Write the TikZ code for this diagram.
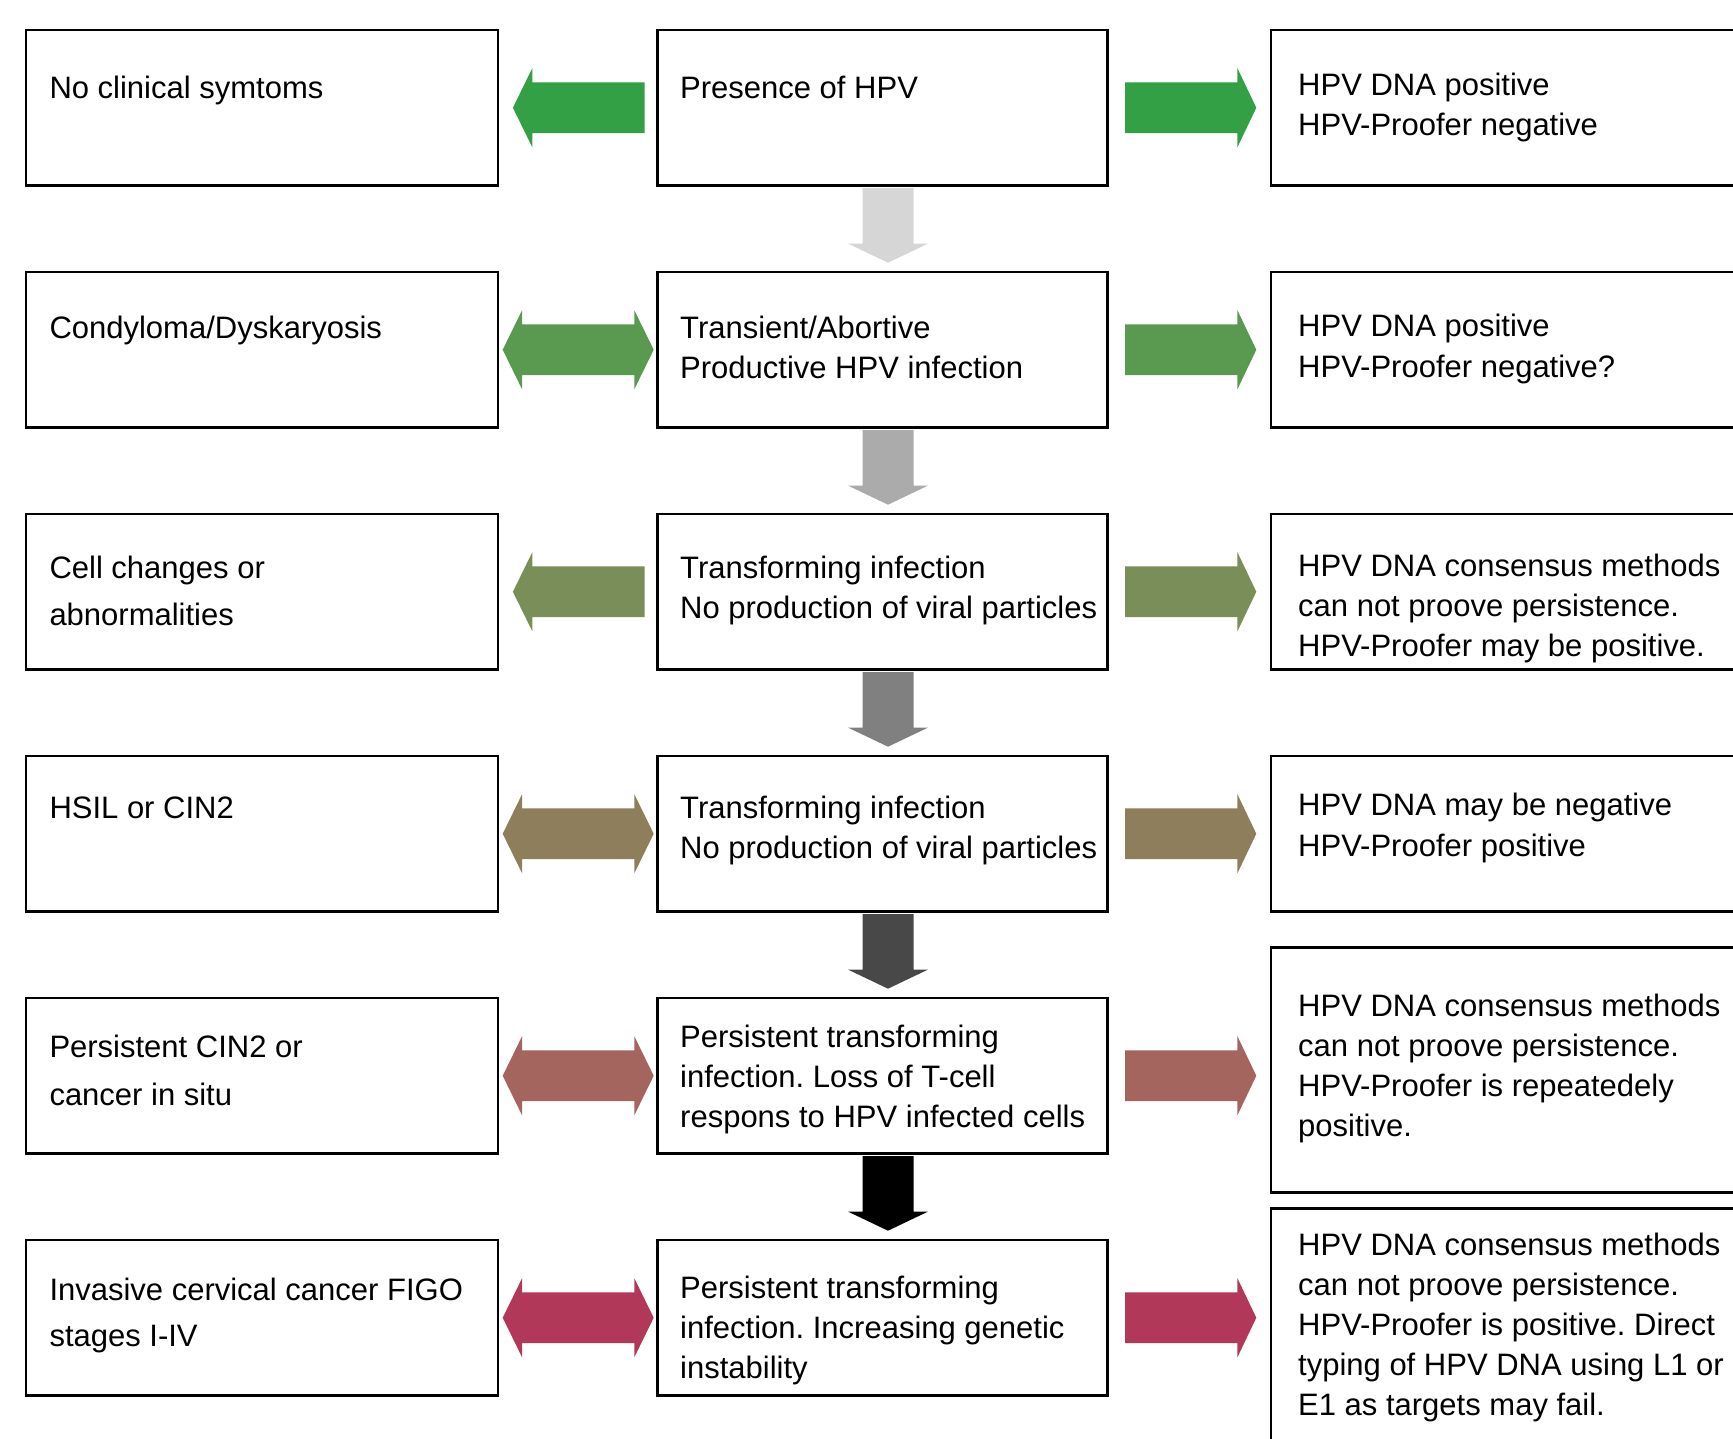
\documentclass[tikz,border=0pt]{standalone}
\usepackage{fontspec}
\setmainfont{Liberation Sans}
\usetikzlibrary{calc}
\frenchspacing
\newcommand\ml[2]{\vtop{\baselineskip=#1pt\lineskiplimit=-100pt\lineskip=0pt\halign{##\hfil\cr#2\cr}}}
\definecolor{rowa}{RGB}{51,160,70}
\definecolor{rowb}{RGB}{89,153,80}
\definecolor{rowc}{RGB}{122,142,89}
\definecolor{rowd}{RGB}{142,126,92}
\definecolor{rowe}{RGB}{164,101,94}
\definecolor{rowf}{RGB}{178,56,90}
\definecolor{dna}{RGB}{214,214,214}
\definecolor{dnb}{RGB}{171,171,171}
\definecolor{dnc}{RGB}{128,128,128}
\definecolor{dnd}{RGB}{72,72,72}
\definecolor{dne}{RGB}{0,0,0}
% left single arrow (points left): #1 left box, #2 centre box
\newcommand\larrow[3]{\fill[#3] ($(#1.east)+(13.6,0)$) -- ($(#1.east)+(33,-39.6)$) -- ++(0,14.2) -- ($(#2.west)+(-11.7,-25.4)$) -- ++(0,50.8) -- ($(#1.east)+(33,25.4)$) -- ++(0,14.2) -- cycle;}
% double arrow between left box and centre box
\newcommand\darrow[3]{\fill[#3] ($(#1.east)+(3.4,0)$) -- ($(#1.east)+(22.8,-39.6)$) -- ++(0,14.2) -- ($(#2.west)+(-21.9,-25.4)$) -- ++(0,-14.2) -- ($(#2.west)+(-2.5,0)$) -- ($(#2.west)+(-21.9,39.6)$) -- ++(0,-14.2) -- ($(#1.east)+(22.8,25.4)$) -- ++(0,14.2) -- cycle;}
% right arrow: #1 centre box, #2 right box
\newcommand\rarrow[3]{\fill[#3] ($(#1.east)+(16.4,-25.4)$) -- ($(#1.east -| #2.west)+(-32.3,-25.4)$) -- ++(0,-14.2) -- ($(#1.east -| #2.west)+(-13.4,0)$) -- ($(#1.east -| #2.west)+(-32.3,39.6)$) -- ++(0,-14.2) -- ($(#1.east)+(16.4,25.4)$) -- cycle;}
% down arrow: #1 upper box, #2 lower box
\newcommand\varrow[3]{\fill[#3] ($(#1.south)+(-20,1.3)$) -- ($(#2.north)+(-20,-27)$) -- ++(-14.3,0) -- ($(#2.north)+(5.5,-8)$) -- ($(#2.north)+(45.3,-27)$) -- ++(-14.3,0) -- ($(#1.south)+(31,1.3)$) -- cycle;}
\begin{document}
\begin{tikzpicture}[x=1pt,y=-1pt,
  bx/.style={draw=black, line width=2.6pt, inner sep=0pt, minimum height=155.5pt},
  lbox/.style={bx, minimum width=472pt},
  cbox/.style={bx, minimum width=450pt},
  rbox/.style={bx, minimum width=480pt},
  txt/.style={anchor=base west, inner sep=0pt, font=\fontsize{31}{40}\selectfont}]
\useasboundingbox (0,0) rectangle (1733,1439);
\clip (0,0) rectangle (1733,1439);
\fill[white] (0,0) rectangle (1733,1439);
% boxes
\node[lbox] (L1) at (262,107.75) {};
\node[lbox] (L2) at (262,349.75) {};
\node[lbox] (L3) at (262,591.75) {};
\node[lbox] (L4) at (262,833.75) {};
\node[lbox] (L5) at (262,1075.75) {};
\node[lbox] (L6) at (262,1317.75) {};
\node[cbox] (C1) at (882.5,107.75) {};
\node[cbox] (C2) at (882.5,349.75) {};
\node[cbox] (C3) at (882.5,591.75) {};
\node[cbox] (C4) at (882.5,833.75) {};
\node[cbox] (C5) at (882.5,1075.75) {};
\node[cbox] (C6) at (882.5,1317.75) {};
\node[rbox] (R1) at (1511,107.75) {};
\node[rbox] (R2) at (1511,349.75) {};
\node[rbox] (R3) at (1511,591.75) {};
\node[rbox] (R4) at (1511,833.75) {};
\node[rbox, minimum height=245pt] (R5) at (1511,1069.8) {};
\node[rbox, minimum height=252pt] (R6) at (1511,1334.3) {};
% texts
\node[txt] (L1t) at (49.3,99) {\ml{45}{No clinical symtoms}};
\node[txt] (L2t) at (49.3,339) {\ml{45}{Condyloma/Dyskaryosis}};
\node[txt] (L3t) at (49.3,578.3) {\ml{46.7}{Cell changes or\cr abnormalities}};
\node[txt] (L4t) at (49.3,818) {\ml{45}{HSIL or CIN2}};
\node[txt] (L5t) at (49.3,1057.5) {\ml{48}{Persistent CIN2 or\cr cancer in situ}};
\node[txt] (L6t) at (49.3,1300) {\ml{46.5}{Invasive cervical cancer FIGO\cr stages I-IV}};
\node[txt] (C1t) at (680,99) {\ml{40}{Presence of HPV}};
\node[txt] (C2t) at (680,339) {\ml{40}{Transient/Abortive\cr Productive HPV infection}};
\node[txt] (C3t) at (680,578.5) {\ml{40}{Transforming infection\cr No production of viral particles}};
\node[txt] (C4t) at (680,818.5) {\ml{40}{Transforming infection\cr No production of viral particles}};
\node[txt] (C5t) at (680,1047.7) {\ml{40}{Persistent transforming\cr infection. Loss of T-cell\cr respons to HPV infected cells}};
\node[txt] (C6t) at (680,1298.8) {\ml{40}{Persistent transforming\cr infection. Increasing genetic\cr instability}};
\node[txt] (R1t) at (1298,95.5) {\ml{40.5}{HPV DNA positive\cr HPV-Proofer negative}};
\node[txt] (R2t) at (1298,337) {\ml{40.5}{HPV DNA positive\cr HPV-Proofer negative?}};
\node[txt] (R3t) at (1298,576) {\ml{40}{HPV DNA consensus methods\cr can not proove persistence.\cr HPV-Proofer may be positive.}};
\node[txt] (R4t) at (1298,815.6) {\ml{40.4}{HPV DNA may be negative\cr HPV-Proofer positive}};
\node[txt] (R5t) at (1298,1016) {\ml{40}{HPV DNA consensus methods\cr can not proove persistence.\cr HPV-Proofer is repeatedely\cr positive.}};
\node[txt] (R6t) at (1298,1255) {\ml{40.2}{HPV DNA consensus methods\cr can not proove persistence.\cr HPV-Proofer is positive. Direct\cr typing of HPV DNA using L1 or\cr E1 as targets may fail.}};
% horizontal arrows
\larrow{L1}{C1}{rowa}
\darrow{L2}{C2}{rowb}
\larrow{L3}{C3}{rowc}
\darrow{L4}{C4}{rowd}
\darrow{L5}{C5}{rowe}
\darrow{L6}{C6}{rowf}
\rarrow{C1}{R1}{rowa}
\rarrow{C2}{R2}{rowb}
\rarrow{C3}{R3}{rowc}
\rarrow{C4}{R4}{rowd}
\rarrow{C5}{R5}{rowe}
\rarrow{C6}{R6}{rowf}
% vertical arrows
\varrow{C1}{C2}{dna}
\varrow{C2}{C3}{dnb}
\varrow{C3}{C4}{dnc}
\varrow{C4}{C5}{dnd}
\varrow{C5}{C6}{dne}
\end{tikzpicture}
\end{document}
